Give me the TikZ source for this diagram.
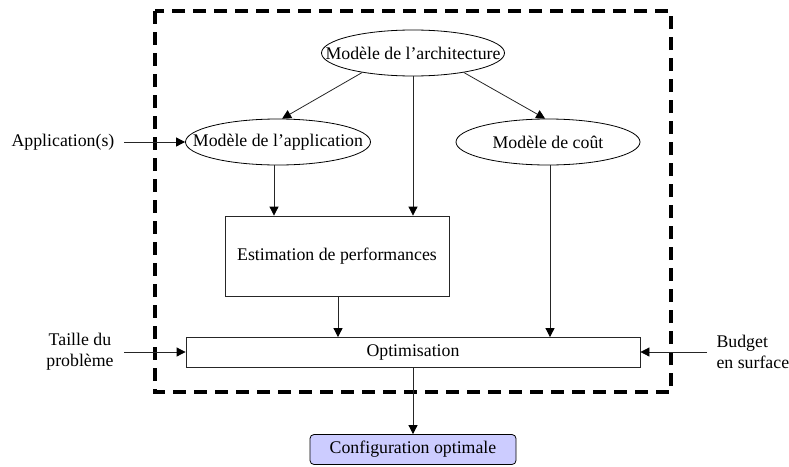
\documentclass[tikz,border=0pt]{standalone}
\usepackage{fontspec}
\setmainfont{Liberation Serif}
\usetikzlibrary{arrows.meta,shapes.geometric}
\definecolor{lavender}{RGB}{204,204,255}
\colorlet{edge}{black!85}
\begin{document}
\begin{tikzpicture}[x=1pt,y=-1pt,
  font=\fontsize{17.8}{21}\selectfont,
  model/.style={draw,ellipse,inner sep=0pt,line width=0.8pt},
  block/.style={draw=edge,rectangle,inner sep=0pt,line width=0.8pt},
  link/.style={draw=edge,line width=0.8pt,-{Triangle[length=9pt,width=9pt,color=black]}},
  frame/.style={line width=3.4pt,dash pattern=on 13pt off 8pt}]
\useasboundingbox (0,0) rectangle (789,466);
% dashed system boundary
\draw[frame] (155,11) rectangle (671,392);
% models (ellipse outline hugging the label)
\node[model,minimum width=183pt,minimum height=46pt,label=center:{Modèle de l'architecture}] (arch) at (413,53) {};
\node[model,minimum width=185pt,minimum height=46pt,label=center:{Modèle de l'application}] (app) at (278,142) {};
\node[model,minimum width=184pt,minimum height=46pt,label=center:{Modèle de coût}] (cost) at (548,142) {};
% processing blocks
\node[block,minimum width=224pt,minimum height=80pt] (est) at (337,256) {Estimation de performances};
\node[block,minimum width=454pt,minimum height=30pt] (opt) at (413,352.5) {Optimisation};
\node[draw,rounded corners=4pt,fill=lavender,line width=0.8pt,minimum width=206pt,minimum height=30pt,inner sep=0pt] (conf) at (413,449.5) {Configuration optimale};
% external inputs
\node (appin) at (63,142) {Application(s)};
\node[align=center] (size) at (80,352) {Taille du\\problème};
\node[align=left,anchor=west] (budget) at (713,352) {Budget\\en surface};
\coordinate (appsrc) at (124,142);
\coordinate (sizesrc) at (124,352);
\coordinate (budgetsrc) at (707,352);
% connectors
\draw[link] (arch.201) -- (app.80);
\draw[link] (arch.339) -- (cost.97);
\draw[link] (arch.south) -- (est.north -| arch.south);
\draw[link] (app.south -| 274,0) -- (est.north -| 274,0);
\draw[link] (est.south -| 338,0) -- (opt.north -| 338,0);
\draw[link] (cost.south -| 550,0) -- (opt.north -| 550,0);
\draw[link] (opt.south -| conf.north) -- (conf.north);
\draw[link] (appsrc) -- (app.west);
\draw[link] (sizesrc) -- (opt.west |- sizesrc);
\draw[link] (budgetsrc) -- (opt.east |- budgetsrc);
\end{tikzpicture}
\end{document}
